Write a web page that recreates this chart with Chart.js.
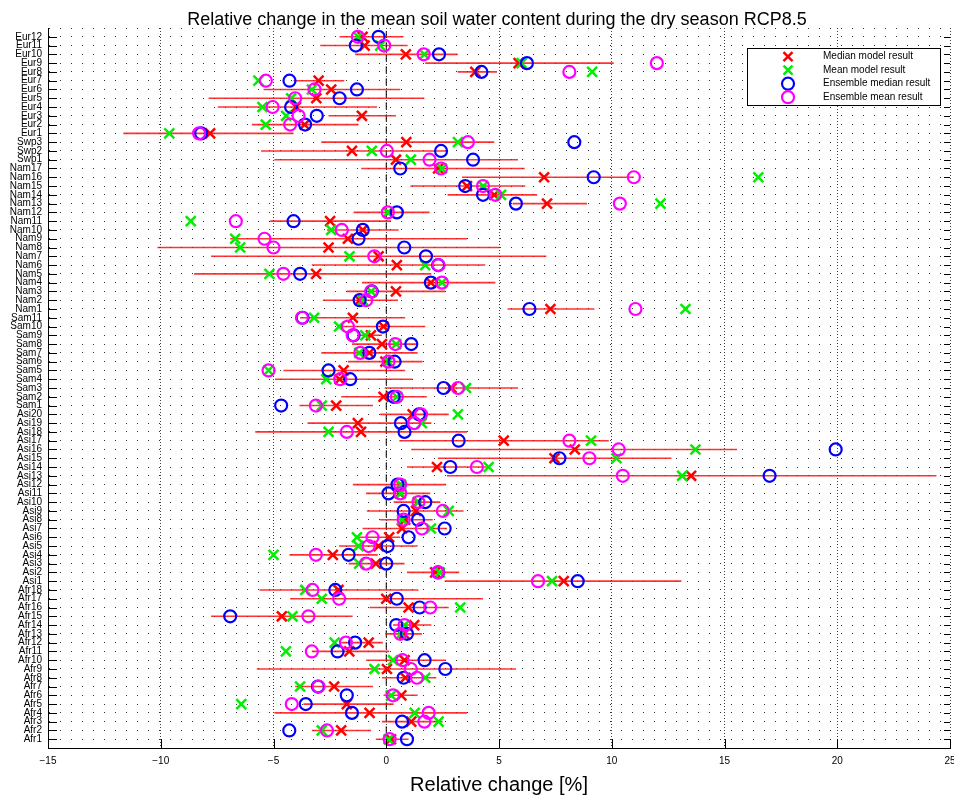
<!DOCTYPE html>
<html><head><meta charset="utf-8">
<script src="https://cdn.jsdelivr.net/npm/chart.js@4/dist/chart.umd.min.js"></script>
<style>html,body{margin:0;padding:0;background:#fff}#wrap{position:relative;width:954px;height:797px}</style>
</head><body><div id="wrap"><canvas id="c" width="954" height="797"></canvas></div>
<script>
// Region labels, bottom to top
const labels = [
 'Afr1','Afr2','Afr3','Afr4','Afr5','Afr6','Afr7','Afr8','Afr9','Afr10','Afr11','Afr12','Afr13','Afr14','Afr15','Afr16','Afr17','Afr18',
 'Asi1','Asi2','Asi3','Asi4','Asi5','Asi6','Asi7','Asi8','Asi9','Asi10','Asi11','Asi12','Asi13','Asi14','Asi15','Asi16','Asi17','Asi18','Asi19','Asi20',
 'Sam1','Sam2','Sam3','Sam4','Sam5','Sam6','Sam7','Sam8','Sam9','Sam10','Sam11',
 'Nam1','Nam2','Nam3','Nam4','Nam5','Nam6','Nam7','Nam8','Nam9','Nam10','Nam11','Nam12','Nam13','Nam14','Nam15','Nam16','Nam17',
 'Swp1','Swp2','Swp3',
 'Eur1','Eur2','Eur3','Eur4','Eur5','Eur6','Eur7','Eur8','Eur9','Eur10','Eur11','Eur12'
];
const rangeMin = [
 -0.46,-3.30,-0.19,-4.96,-3.67,-0.12,-4.04,-0.19,-5.74,-0.89,-3.30,-2.00,-0.04,0.30,-7.77,-0.74,-4.26,-5.62,
 2.59,0.92,-1.67,-4.29,-2.09,-1.38,-1.05,-0.27,-0.86,0.33,-0.90,-1.48,2.69,0.92,2.29,1.11,0.58,-5.81,-3.49,-0.27,
 -3.85,-2.00,-0.07,-4.93,-4.56,-1.70,-2.88,-1.52,-1.15,-2.04,-3.82,
 5.38,-2.81,-1.75,-1.08,-8.52,-3.30,-7.77,-10.15,-6.92,-2.63,-5.15,-1.45,5.60,2.72,1.07,3.36,-1.11,
 -4.96,-5.55,-2.88,
 -11.66,-5.96,-2.56,-7.47,-7.88,-5.44,-4.11,3.17,1.73,-1.38,-2.93,-2.07
];
const rangeMax = [
 0.99,-0.67,2.50,3.58,0.33,1.39,-0.59,2.22,5.75,2.65,0.13,-0.15,1.58,2.00,-1.49,2.77,4.29,1.43,
 13.09,3.24,0.81,-0.38,1.39,0.62,2.69,2.06,3.43,2.40,1.95,2.65,24.40,4.60,12.65,15.56,9.87,3.58,2.00,2.77,
 -0.59,1.80,5.84,1.17,0.84,1.61,1.39,1.39,-0.19,1.73,0.84,
 9.23,0.52,2.62,4.84,2.00,4.39,7.10,5.03,3.58,0.55,0.21,1.92,8.90,6.69,6.17,10.98,6.14,
 5.84,2.70,4.79,
 -4.11,-1.23,0.43,-0.41,1.69,0.62,-1.86,4.91,10.09,3.17,0.95,0.77
];
const medianModel = [
 0.21,-2.00,1.11,-0.74,-1.75,0.67,-2.31,0.85,0.03,0.81,-1.64,-0.78,0.80,1.24,-4.63,0.99,0.00,-2.12,
 7.87,2.17,-0.46,-2.37,-0.34,0.13,0.70,0.84,1.32,1.40,0.60,0.62,13.52,2.25,7.46,8.36,5.21,-1.12,-1.26,1.17,
 -2.22,-0.12,2.90,-2.07,-1.89,-0.04,-0.75,-0.19,-0.68,-0.12,-1.48,
 7.28,-1.18,0.43,1.98,-3.11,0.47,-0.34,-2.56,-1.70,-1.04,-2.49,0.10,7.13,4.79,3.58,7.00,2.30,
 0.43,-1.52,0.89,
 -7.81,-3.62,-1.08,-4.00,-3.10,-2.44,-3.00,3.95,5.87,0.87,-0.96,-1.05
];
const meanModel = [
 0.10,-2.86,2.32,1.26,-6.43,0.22,-3.82,1.73,-0.52,0.30,-4.45,-2.29,0.65,0.81,-4.16,3.28,-2.86,-3.59,
 7.35,2.37,-1.20,-5.00,-1.23,-1.30,1.98,0.70,2.77,1.43,0.65,0.65,13.12,4.54,10.21,13.71,9.08,-2.56,1.58,3.18,
 -2.86,0.47,3.54,-2.66,-5.22,0.10,-1.20,0.44,-0.93,-2.09,-3.20,
 13.27,-1.04,-0.67,2.47,-5.18,1.73,-1.63,-6.48,-6.70,-2.44,-8.67,0.07,12.16,5.09,4.30,16.50,2.47,
 1.09,-0.64,3.18,
 -9.62,-5.34,-4.44,-5.49,-4.22,-3.30,-5.67,9.13,6.00,1.69,-0.27,-1.25
];
const ensembleMedian = [
 0.92,-4.30,0.70,-1.52,-3.57,-1.75,-3.03,0.77,2.62,1.70,-2.16,-1.38,0.92,0.44,-6.92,1.48,0.47,-2.26,
 8.49,2.30,0.00,-1.67,0.06,0.99,2.59,1.41,0.77,1.73,0.10,0.50,17.00,2.84,7.68,19.93,3.21,0.81,0.65,1.45,
 -4.66,0.33,2.54,-1.60,-2.56,0.37,-0.75,1.11,-1.45,-0.15,-3.71,
 6.35,-1.18,-0.64,1.98,-3.82,2.30,1.76,0.80,-1.23,-1.04,-4.11,0.47,5.75,4.29,3.50,9.20,0.62,
 3.85,2.43,8.34,
 -8.21,-3.60,-3.08,-4.22,-2.07,-1.30,-4.29,4.22,6.24,2.34,-1.35,-0.34
];
const ensembleMean = [
 0.15,-2.63,1.69,1.88,-4.19,0.30,-3.00,1.36,1.09,0.72,-3.30,-1.79,0.62,0.81,-3.45,1.95,-2.09,-3.27,
 6.73,2.29,-0.90,-3.12,-0.78,-0.61,1.58,0.77,2.51,1.43,0.62,0.62,10.49,4.02,9.01,10.31,8.12,-1.75,1.24,1.54,
 -3.12,0.47,3.18,-2.04,-5.22,0.10,-1.15,0.40,-1.49,-1.70,-3.74,
 11.05,-0.89,-0.67,2.47,-4.56,2.32,-0.53,-5.00,-5.40,-1.97,-6.67,0.07,10.36,4.84,4.29,10.98,2.43,
 1.92,0.03,3.62,
 -8.30,-4.26,-3.89,-5.04,-4.04,-3.18,-5.34,8.12,12.00,1.66,-0.09,-1.26
];
const xTicks = [-15,-10,-5,0,5,10,15,20,25];
const titleText = 'Relative change in the mean soil water content during the dry season RCP8.5';
const xTitle = 'Relative change [%]';
const legendNames = ['Median model result','Mean model result','Ensemble median result','Ensemble mean result'];

const FONT = '"Liberation Sans", Arial, Helvetica, sans-serif';
const toPts = arr => arr.map((v,i)=>({x:v, y:i+1}));
const rangeData = [];
labels.forEach((l,i)=>{
  rangeData.push({x:rangeMin[i], y:i+1},{x:rangeMax[i], y:i+1},{x:rangeMax[i], y:null});
});

const extras = {
  id:'extras',
  afterDraw(chart){
    const ctx = chart.ctx, a = chart.chartArea, xs = chart.scales.x, ys = chart.scales.y;
    ctx.save();
    // inward ticks
    ctx.strokeStyle = '#000'; ctx.lineWidth = 1;
    ctx.beginPath();
    xTicks.forEach(t=>{ const px = Math.round(xs.getPixelForValue(t))+0.5; ctx.moveTo(px, a.bottom); ctx.lineTo(px, a.bottom-9); });
    labels.forEach((l,i)=>{ const py = Math.round(ys.getPixelForValue(i+1))+0.5; ctx.moveTo(a.left, py); ctx.lineTo(a.left+9, py); ctx.moveTo(a.right, py); ctx.lineTo(a.right-6, py); });
    ctx.stroke();
    // title
    ctx.fillStyle = '#000';
    ctx.font = '18px ' + FONT;
    ctx.textAlign = 'center'; ctx.textBaseline = 'middle';
    ctx.fillText(titleText, 497, 20);
    // legend
    const bx = 747.5, by = 48.5, bw = 193, bh = 57;
    ctx.fillStyle = '#fff'; ctx.fillRect(bx, by, bw, bh);
    ctx.strokeStyle = '#000'; ctx.lineWidth = 1; ctx.strokeRect(bx, by, bw, bh);
    const cols = ['#ff0000','#00ee00','#0000ff','#ff00ff'];
    legendNames.forEach((name,i)=>{
      const y = 56.7 + i*13.5, x = 788;
      ctx.strokeStyle = cols[i];
      if (i < 2) {
        ctx.lineWidth = 2.5; ctx.beginPath();
        ctx.moveTo(x-4.5,y-4.5); ctx.lineTo(x+4.5,y+4.5); ctx.moveTo(x-4.5,y+4.5); ctx.lineTo(x+4.5,y-4.5);
        ctx.stroke();
      } else {
        ctx.lineWidth = 2.2; ctx.beginPath(); ctx.arc(x, y, 6, 0, Math.PI*2); ctx.stroke();
      }
      ctx.fillStyle = '#000'; ctx.font = '10px ' + FONT; ctx.textAlign = 'left'; ctx.textBaseline = 'middle';
      ctx.fillText(name, 823, y);
    });
    ctx.restore();
  }
};

new Chart(document.getElementById('c'), {
  type: 'scatter',
  data: {
    datasets: [
      { label:'range', type:'line', data: rangeData, borderColor:'rgba(255,0,0,0.8)', borderWidth:1.6, pointRadius:0, spanGaps:false, fill:false, order:10 },
      { label:'zero', type:'line', data:[{x:0,y:0.3},{x:0,y:81.6}], borderColor:'#000', borderWidth:1, borderDash:[7,5], pointRadius:0, fill:false, order:11 },
      { label:legendNames[0], data: toPts(medianModel), pointStyle:'crossRot', pointRadius:7, pointBorderWidth:2.5, borderColor:'#ff0000', backgroundColor:'#ff0000', order:4 },
      { label:legendNames[1], data: toPts(meanModel), pointStyle:'crossRot', pointRadius:7, pointBorderWidth:2.5, borderColor:'#00ee00', backgroundColor:'#00ee00', order:3 },
      { label:legendNames[2], data: toPts(ensembleMedian), pointStyle:'circle', pointRadius:6, pointBorderWidth:2.2, borderColor:'#0000ff', backgroundColor:'rgba(0,0,0,0)', order:2 },
      { label:legendNames[3], data: toPts(ensembleMean), pointStyle:'circle', pointRadius:6, pointBorderWidth:2.2, borderColor:'#ff00ff', backgroundColor:'rgba(0,0,0,0)', order:1 }
    ]
  },
  options: {
    responsive:false, animation:false, devicePixelRatio:1,
    layout:{ autoPadding:false, padding:{ top:28, right:4, left:0, bottom:0 } },
    plugins:{ legend:{display:false}, tooltip:{enabled:false}, title:{display:false} },
    scales:{
      x:{
        type:'linear', min:-15, max:25,
        afterBuildTicks: s => { s.ticks = xTicks.map(v=>({value:v})); },
        afterFit: s => { s.height = 49; s.paddingLeft = 0; s.paddingRight = 0; },
        ticks:{ font:{family:FONT, size:10}, color:'#000', padding:7, maxRotation:0,
                callback: v => (v<0 ? '\u2212'+Math.abs(v) : String(v)) },
        grid:{ color:'rgba(0,0,0,0.75)', lineWidth:1, drawTicks:false },
        border:{ display:true, color:'#000', width:1, dash:[1,2] },
        title:{ display:true, text:xTitle, font:{family:FONT, size:20}, color:'#000', padding:{top:0,bottom:0} }
      },
      y:{
        type:'linear', min:0, max:82,
        afterBuildTicks: s => { s.ticks = labels.map((l,i)=>({value:i+1})).concat([{value:82}]); },
        afterFit: s => { s.width = 48; s.paddingTop = 0; s.paddingBottom = 0; },
        ticks:{ autoSkip:false, font:{family:FONT, size:10}, color:'#000', padding:6,
                callback: v => labels[v-1] || '' },
        grid:{ color:'rgba(0,0,0,0.8)', lineWidth:1, drawTicks:false },
        border:{ display:true, color:'#000', width:1, dash:[1,10] }
      }
    }
  },
  plugins:[extras]
});
</script>
</body></html>
